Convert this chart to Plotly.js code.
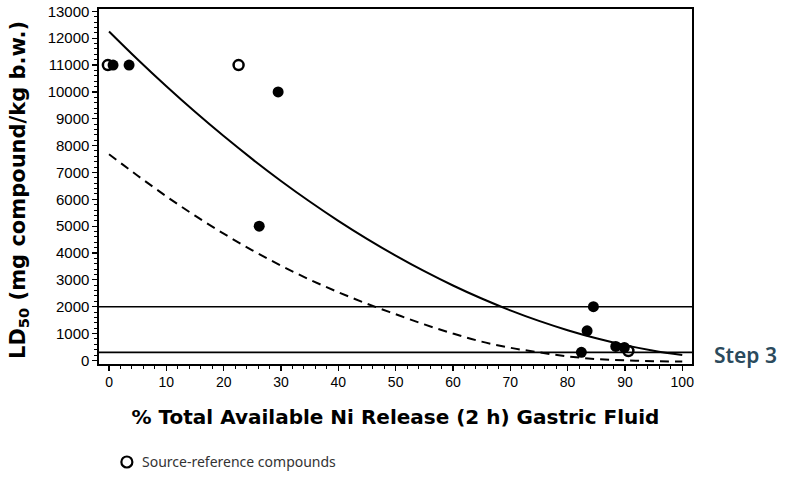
<!DOCTYPE html>
<html>
<head>
<meta charset="utf-8">
<script src="https://cdn.plot.ly/plotly-3.0.1.min.js"></script>
<style>html,body{margin:0;padding:0;background:#fff;}#chart{width:786px;height:479px;}</style>
</head>
<body>
<div id="chart"></div>
<script>
// Measured compounds (filled) and source-reference compounds (open)
var filledX = [0.7, 3.5, 26.2, 29.5, 82.4, 83.4, 84.5, 88.4, 89.9];
var filledY = [11000, 11000, 5000, 10000, 300, 1100, 2000, 520, 480];
var openX = [-0.2, 22.6, 90.6];
var openY = [11000, 11000, 350];

// Fitted curves
var curveX = [0, 5, 10, 15, 20, 25, 30, 35, 40, 45, 50, 55, 60, 65, 70, 75, 80, 85, 90, 95, 100];
var solidY = [12250, 11206, 10209, 9258, 8354, 7496, 6684, 5919, 5200, 4528, 3903, 3323, 2790, 2304, 1864, 1471, 1124, 823, 569, 361, 200];
var dashedY = [7680, 6880, 6110, 5390, 4720, 4100, 3530, 3010, 2540, 2110, 1720, 1340, 1000, 700, 470, 300, 150, 50, 0, -30, -45];

// Classification thresholds (horizontal lines)
var thresholds = [2000, 300];

var xTickVals = [0, 10, 20, 30, 40, 50, 60, 70, 80, 90, 100];
var yTickVals = [0, 1000, 2000, 3000, 4000, 5000, 6000, 7000, 8000, 9000, 10000, 11000, 12000, 13000];

var traces = [
  {x: curveX, y: solidY, mode: 'lines', line: {color: '#000', width: 2, shape: 'spline', smoothing: 1}, hoverinfo: 'skip', showlegend: false},
  {x: curveX, y: dashedY, mode: 'lines', line: {color: '#000', width: 2, dash: '9px,6px', shape: 'spline', smoothing: 1}, hoverinfo: 'skip', showlegend: false},
  {x: filledX, y: filledY, mode: 'markers', marker: {symbol: 'circle', size: 11, color: '#000'}, showlegend: false},
  {x: openX, y: openY, mode: 'markers', marker: {symbol: 'circle-open', size: 10, color: '#000', line: {width: 2.5, color: '#000'}}, showlegend: false}
];

var shapes = thresholds.map(function (t) {
  return {type: 'line', xref: 'paper', x0: 0, x1: 1, yref: 'y', y0: t, y1: t, line: {color: '#000', width: 1.6}};
});
// legend marker
shapes.push({type: 'circle', xref: 'paper', yref: 'paper', xsizemode: 'pixel', ysizemode: 'pixel',
  xanchor: 0.047, yanchor: -0.276, x0: -5.5, x1: 5.5, y0: -5.5, y1: 5.5, line: {color: '#000', width: 2.2}, fillcolor: 'rgba(0,0,0,0)'});

var layout = {
  width: 786, height: 479,
  margin: {l: 99, r: 94, t: 9, b: 115},
  paper_bgcolor: '#fff', plot_bgcolor: '#fff',
  font: {family: 'Liberation Sans, Arial, sans-serif', color: '#000'},
  xaxis: {
    range: [-1.75, 101.7], tickvals: xTickVals, ticks: 'outside', ticklen: 5, tickwidth: 1.2, tickcolor: '#000',
    minor: {dtick: 2, ticks: 'outside', ticklen: 3, tickcolor: '#000', tickwidth: 1},
    showgrid: false, zeroline: false, showline: true, linecolor: '#000', linewidth: 1.6, mirror: true,
    tickfont: {size: 14, family: 'Liberation Sans, Arial, sans-serif', color: '#000'},
    title: {text: '% Total Available Ni Release (2 h) Gastric Fluid', font: {size: 20, family: 'DejaVu Sans, sans-serif', weight: 'bold', color: '#000'}, standoff: 20}
  },
  yaxis: {
    range: [-134, 13088], tickvals: yTickVals, tickformat: 'd', ticks: 'outside', ticklen: 5, tickwidth: 1.2, tickcolor: '#000',
    minor: {dtick: 200, ticks: 'outside', ticklen: 3, tickcolor: '#000', tickwidth: 1},
    showgrid: false, zeroline: false, showline: true, linecolor: '#000', linewidth: 1.6, mirror: true,
    tickfont: {size: 15, family: 'Liberation Sans, Arial, sans-serif', color: '#000'}
  },
  shapes: shapes,
  annotations: [
    {text: 'LD<sub>50</sub> (mg compound/kg b.w.)', xref: 'paper', yref: 'paper', x: -0.135, y: 0.49,
     xanchor: 'center', yanchor: 'middle', textangle: -90, showarrow: false,
     font: {size: 21, family: 'DejaVu Sans, sans-serif', weight: 'bold', color: '#000'}},
    {text: 'Step 3', xref: 'paper', yref: 'y', x: 1.033, y: 200, xanchor: 'left', yanchor: 'middle', showarrow: false,
     font: {size: 21, family: 'Noto Sans, sans-serif', weight: 600, color: '#2b4a5c'}},
    {text: 'Source-reference compounds', xref: 'paper', yref: 'paper', x: 0.069, y: -0.276, xanchor: 'left', yanchor: 'middle', showarrow: false,
     font: {size: 14, family: 'Noto Sans, sans-serif', color: '#333'}}
  ],
  showlegend: false
};

Plotly.newPlot('chart', traces, layout, {displayModeBar: false, staticPlot: true});
</script>
</body>
</html>
